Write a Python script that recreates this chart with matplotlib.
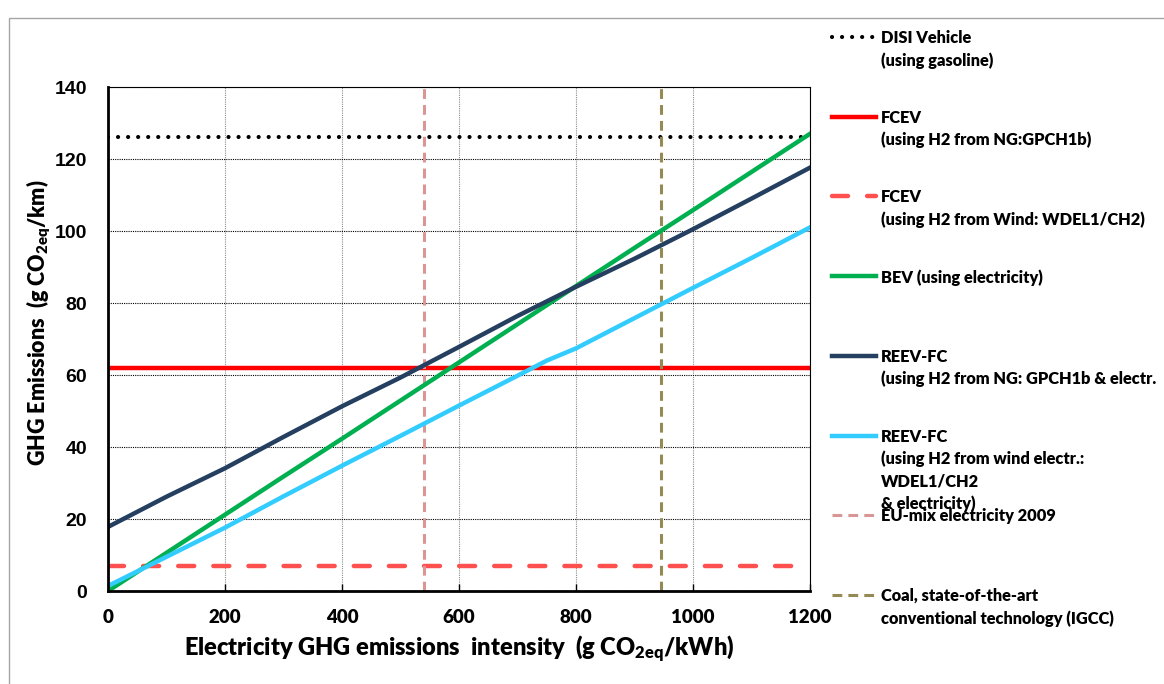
import matplotlib
matplotlib.use("Agg")
import matplotlib.pyplot as plt
from matplotlib.lines import Line2D
from matplotlib.patches import Rectangle

plt.rcParams['mathtext.default'] = 'regular'

# electricity intensity grid (g CO2eq/kWh)
elec_x = [0, 100, 200, 300, 400, 500, 600, 700, 800, 900, 1000, 1100, 1200]
bev = [0, 10.6, 21.2, 31.8, 42.3, 52.9, 63.5, 74.1, 84.7, 95.3, 105.8, 116.4, 127.0]
reev_ng = [17.8, 26.2, 34.1, 42.8, 51.3, 59.3, 67.8, 76.4, 84.5, 92.3, 100.5, 109.0, 117.6]
reev_wind_x = [0, 100, 200, 300, 400, 500, 600, 700, 750, 800, 900, 1000, 1100, 1200]
reev_wind = [1.4, 9.5, 17.6, 26.3, 34.8, 43.1, 51.5, 59.8, 64.0, 67.4, 75.8, 84.2, 92.5, 101.0]

# constant levels (g CO2eq/km)
disi = 126
fcev_ng = 62
fcev_wind = 7

# reference electricity mixes (g CO2eq/kWh)
eu_mix = 540
coal_igcc = 945

x_ticks = [0, 200, 400, 600, 800, 1000, 1200]
y_ticks = [0, 20, 40, 60, 80, 100, 120, 140]

W, H = 1164, 684
def fx(px): return px / W
def fy(py): return 1 - py / H

TXT = 'Lato'
WT = 'heavy'

# styles
st_disi = dict(color='black', lw=3, linestyle=(0, (0.01, 2.4)), dash_capstyle='round')
st_fcev = dict(color='#ff0000', lw=3.2)
st_fcev_w = dict(color='#ff5050', lw=3.2, linestyle=(0, (3.6, 4.3)), dash_capstyle='round')
st_bev = dict(color='#00b050', lw=3.2)
st_reev = dict(color='#243f60', lw=3.2)
st_reev_w = dict(color='#33ccff', lw=3.2)
st_eu = dict(color='#d99694', lw=2.2, linestyle=(0, (3.2, 2.0)))
st_coal = dict(color='#948a54', lw=2.2, linestyle=(0, (3.2, 2.0)))

fig = plt.figure(figsize=(W / 100, H / 100), dpi=100)
ax = fig.add_axes([fx(108), fy(591), fx(810) - fx(108), fy(87) - fy(591)])

ax.axhline(disi, **st_disi)
ax.axhline(fcev_ng, **st_fcev)
ax.axhline(fcev_wind, **st_fcev_w)
ax.axvline(eu_mix, **st_eu)
ax.axvline(coal_igcc, **st_coal)
ax.plot(elec_x, bev, **st_bev)
ax.plot(elec_x, reev_ng, **st_reev)
ax.plot(reev_wind_x, reev_wind, **st_reev_w)

ax.set_xlim(0, 1200)
ax.set_ylim(0, 140)
ax.set_xticks(x_ticks)
ax.set_yticks(y_ticks)
ax.set_axisbelow(True)
ax.yaxis.grid(True, color='black', linestyle=(0, (1, 1)), lw=0.8)
ax.xaxis.grid(True, color='#8c8c8c', linestyle=(0, (1, 1)), lw=0.8)
for s in ['left', 'bottom']:
    ax.spines[s].set_linewidth(2)
for s in ['top', 'right']:
    ax.spines[s].set_linewidth(0.8)
ax.tick_params(axis='x', direction='in', length=5, width=1, pad=13)
ax.tick_params(axis='y', direction='in', length=0, pad=15)
for lab in ax.get_yticklabels():
    lab.set_fontfamily('Liberation Sans')
    lab.set_fontweight('bold')
    lab.set_fontsize(14)
for lab in ax.get_xticklabels():
    lab.set_fontfamily(TXT)
    lab.set_fontweight(WT)
    lab.set_fontsize(13.5)

ax.set_xlabel('Electricity GHG emissions  intensity  (g CO$_{2eq}$/kWh)',
              fontfamily=TXT, fontweight=WT, fontsize=17, labelpad=6)
ax.set_ylabel('GHG Emissions  (g CO$_{2eq}$/km)',
              fontfamily=TXT, fontweight=WT, fontsize=15.5)
ax.yaxis.set_label_coords(-0.08, 0.532)

# legend drawn on the right as in the source sheet
entries = [
    ('DISI Vehicle\n(using gasoline)', st_disi),
    ('FCEV\n(using H2 from NG:GPCH1b)', st_fcev),
    ('FCEV\n(using H2 from Wind: WDEL1/CH2)', st_fcev_w),
    ('BEV (using electricity)', st_bev),
    ('REEV-FC\n(using H2 from NG: GPCH1b & electr.', st_reev),
    ('REEV-FC\n(using H2 from wind electr.:\nWDEL1/CH2\n& electricity)', st_reev_w),
    ('EU-mix electricity 2009', st_eu),
    ('Coal, state-of-the-art\nconventional technology (IGCC)', st_coal),
]
for i, (label, st) in enumerate(entries):
    yy = 37 + i * 79.7
    fig.add_artist(Line2D([fx(832), fx(876)], [fy(yy), fy(yy)], transform=fig.transFigure, **st))
    fig.text(fx(881), fy(yy - 7), label, va='top', ha='left', linespacing=1.45,
             fontfamily=TXT, fontweight=WT, fontsize=11.8)

# outer chart frame
fig.add_artist(Rectangle((fx(9), -0.1), 1.2, fy(18) + 0.1, transform=fig.transFigure,
                         fill=False, edgecolor='#a6a6a6', lw=1))

fig.savefig('out.png', dpi=100)
